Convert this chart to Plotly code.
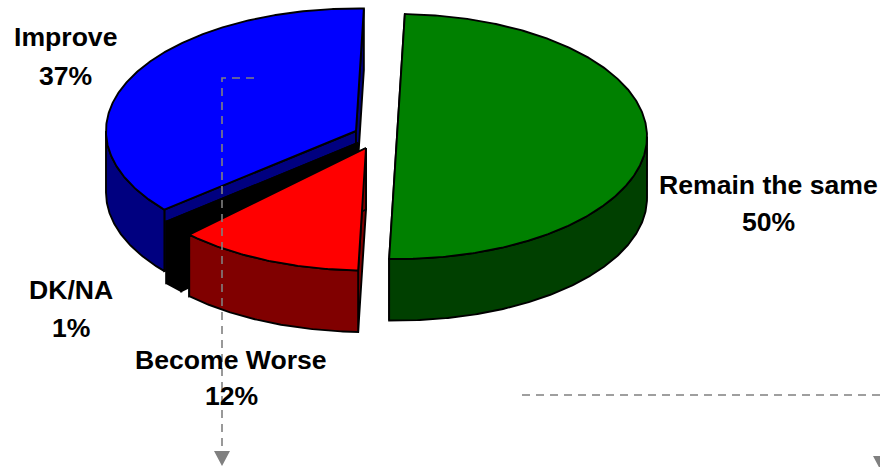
import numpy as np
import plotly.graph_objects as go

categories = ["Remain the same", "Become Worse", "DK/NA", "Improve"]
values = [50, 12, 1.4, 36.6]

top_colors = ["#008000", "#FF0000", "#000000", "#0000FF"]
side_colors = ["#004000", "#800000", "#000000", "#000080"]
apexes = [(397, 136.5), (366, 148), (358, 143), (356, 131)]
A, B, DEPTH = 250, 122.5, 61.5
START = 88.2
W, H = 880, 467

label_pos = {
    "Remain the same": (768, 185, 222),
    "Become Worse": (231, 360, 396),
    "DK/NA": (71, 290, 328),
    "Improve": (65, 37, 76),
}


def pt(apex, deg, drop=0.0):
    r = np.deg2rad(deg)
    return apex[0] + A * np.cos(r), apex[1] - B * np.sin(r) + drop


def arc(apex, d0, d1, drop=0.0):
    n = max(2, int(abs(d1 - d0) * 2) + 1)
    ds = np.linspace(d0, d1, n)
    r = np.deg2rad(ds)
    return apex[0] + A * np.cos(r), apex[1] - B * np.sin(r) + drop


fig = go.Figure()


def poly(xs, ys, color):
    xs = list(xs)
    ys = list(ys)
    fig.add_trace(go.Scatter(
        x=xs + xs[:1], y=ys + ys[:1], mode="lines", fill="toself",
        fillcolor=color, line=dict(color="#000000", width=1.9),
        hoverinfo="skip", showlegend=False,
    ))


# angular span of each slice, clockwise from START
spans = []
cur = START
for v in values:
    spans.append((cur, cur - v * 3.6))
    cur -= v * 3.6


def draw_slice(i):
    apex = apexes[i]
    d0, d1 = spans[i]
    top, side = top_colors[i], side_colors[i]
    # cut faces (apex to rim), extruded downward
    for d in (d0, d1):
        p = pt(apex, d)
        poly([apex[0], p[0], p[0], apex[0]],
             [apex[1], p[1], p[1] + DEPTH, apex[1] + DEPTH], side)
    # outer wall: front half of the ellipse only
    lo = (d0 + 180) % 360 - 180
    hi = lo - (d0 - d1)
    w0, w1 = min(lo, 0), max(hi, -180)
    if w0 > w1:
        xa, ya = arc(apex, w0, w1)
        xb, yb = arc(apex, w1, w0, DEPTH)
        poly(list(xa) + list(xb), list(ya) + list(yb), side)
    # top face
    xa, ya = arc(apex, d0, d1)
    poly([apex[0]] + list(xa), [apex[1]] + list(ya), top)


# back to front
for i in [0, 3, 2, 1]:
    draw_slice(i)

annotations = []
for name, v in zip(categories, values):
    x, y1, y2 = label_pos[name]
    for text, y in ((name, y1), (f"{round(v)}%", y2)):
        annotations.append(dict(
            x=x, y=y, xref="x", yref="y", text=f"<b>{text}</b>", showarrow=False,
            xanchor="center", yanchor="middle",
            font=dict(family="Liberation Sans", size=26.6, color="#000000"),
        ))

dash = dict(color="#808080", width=1.6, dash="8px,6px")
shapes = [
    dict(type="path", path="M254,78 L222,78 L222,452", line=dash, xref="x", yref="y"),
    dict(type="line", x0=522, y0=395, x1=880, y1=395, line=dash, xref="x", yref="y"),
    dict(type="path", path="M214,451 L230,451 L222,466 Z", fillcolor="#808080",
         line=dict(width=0), xref="x", yref="y"),
    dict(type="path", path="M873,456 L889,456 L881,471 Z", fillcolor="#808080",
         line=dict(width=0), xref="x", yref="y"),
]

fig.update_layout(
    width=W, height=H, margin=dict(l=0, r=0, t=0, b=0),
    paper_bgcolor="#FFFFFF", plot_bgcolor="#FFFFFF",
    xaxis=dict(range=[0, W], visible=False, fixedrange=True),
    yaxis=dict(range=[H, 0], visible=False, fixedrange=True),
    annotations=annotations, shapes=shapes, showlegend=False,
)
fig.write_html(
    "out.html", config=dict(displayModeBar=False),
    post_script="document.body.style.margin='0';document.body.style.overflow='hidden';",
)
